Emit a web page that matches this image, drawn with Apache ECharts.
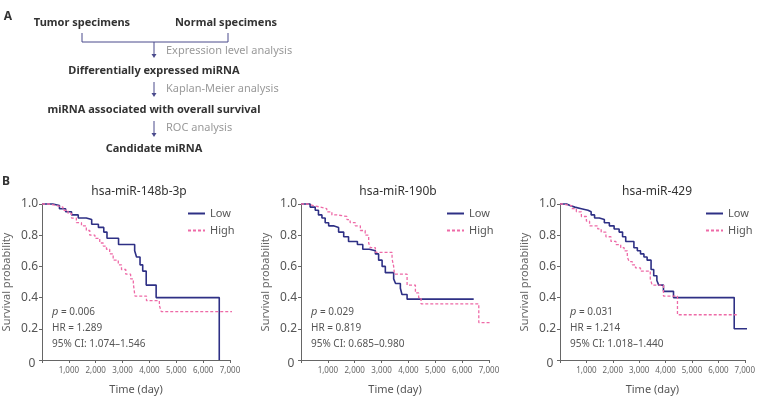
<!DOCTYPE html>
<html>
<head>
<meta charset="utf-8">
<script src="https://cdn.jsdelivr.net/npm/echarts@6/dist/echarts.min.js"></script>
<style>
  html, body { margin: 0; padding: 0; background: #fff; }
  #chart { width: 758px; height: 400px; }
</style>
</head>
<body>
<div id="chart"></div>
<script>
// panel titles and stats
const panelNames = ["hsa-miR-148b-3p", "hsa-miR-190b", "hsa-miR-429"];
const pValues = ["0.006", "0.029", "0.031"];
const hrValues = ["1.289", "0.819", "1.214"];
const ciValues = ["1.074\u20131.546", "0.685\u20130.980", "1.018\u20131.440"];

const xTicks = [0, 1000, 2000, 3000, 4000, 5000, 6000, 7000];
const yTicks = [0, 0.2, 0.4, 0.6, 0.8, 1.0];

// hsa-miR-148b-3p (time in days, survival probability)
const low148T = [0, 400, 650, 880, 1100, 1350, 1650, 1850, 2100, 2300, 2420, 2850, 3450, 3520, 3650, 3750, 3880, 4250, 6600];
const low148S = [1.0, 0.99, 0.97, 0.95, 0.93, 0.91, 0.90, 0.87, 0.85, 0.82, 0.78, 0.74, 0.70, 0.66, 0.61, 0.57, 0.48, 0.40, 0.0];
const high148T = [0, 250, 540, 780, 970, 1100, 1280, 1470, 1650, 1780, 1970, 2150, 2280, 2400, 2520, 2650, 2840, 2960, 3120, 3300, 3400, 3460, 3890, 4370, 4440, 7130];
const high148S = [1.0, 0.99, 0.98, 0.96, 0.94, 0.91, 0.88, 0.86, 0.83, 0.80, 0.78, 0.75, 0.73, 0.71, 0.68, 0.64, 0.61, 0.58, 0.55, 0.52, 0.49, 0.41, 0.38, 0.35, 0.31, 0.31];

// hsa-miR-190b
const low190T = [0, 340, 530, 650, 780, 900, 1030, 1210, 1400, 1590, 1770, 2100, 2300, 2550, 2770, 2890, 3020, 3140, 3450, 3520, 3700, 3760, 3950, 6430];
const low190S = [1.0, 0.98, 0.96, 0.93, 0.91, 0.88, 0.86, 0.85, 0.82, 0.79, 0.76, 0.74, 0.71, 0.70, 0.68, 0.64, 0.60, 0.56, 0.52, 0.49, 0.46, 0.42, 0.39, 0.39];
const high190T = [0, 230, 460, 720, 960, 1150, 1340, 1710, 1830, 2020, 2210, 2390, 2520, 2580, 2770, 3390, 3450, 3480, 3950, 4260, 4380, 4470, 6620, 7120];
const high190S = [1.0, 0.99, 0.98, 0.97, 0.95, 0.93, 0.92, 0.90, 0.88, 0.86, 0.83, 0.80, 0.75, 0.72, 0.69, 0.65, 0.60, 0.55, 0.48, 0.43, 0.40, 0.36, 0.24, 0.24];

// hsa-miR-429
const low429T = [0, 250, 380, 560, 810, 1060, 1180, 1310, 1490, 1680, 1870, 2050, 2240, 2370, 2490, 2800, 2930, 3050, 3180, 3300, 3450, 3550, 3670, 3740, 3920, 4300, 6600, 7100];
const low429S = [1.0, 0.99, 0.98, 0.97, 0.96, 0.95, 0.93, 0.91, 0.90, 0.88, 0.86, 0.84, 0.82, 0.79, 0.76, 0.72, 0.70, 0.68, 0.66, 0.64, 0.58, 0.54, 0.51, 0.48, 0.44, 0.40, 0.20, 0.20];
const high429T = [0, 130, 250, 440, 620, 810, 1000, 1120, 1430, 1560, 1740, 1930, 2120, 2300, 2430, 2550, 2620, 2740, 2860, 3050, 3420, 3490, 3920, 4450, 6720];
const high429S = [1.0, 0.995, 0.99, 0.97, 0.95, 0.92, 0.89, 0.86, 0.84, 0.82, 0.79, 0.76, 0.74, 0.72, 0.70, 0.66, 0.63, 0.61, 0.59, 0.57, 0.52, 0.48, 0.41, 0.29, 0.29];

const lowData = [[low148T, low148S], [low190T, low190S], [low429T, low429S]];
const highData = [[high148T, high148S], [high190T, high190S], [high429T, high429S]];

const NAVY = "#2e3085";
const PINK = "#ee6aa7";
const FONT = "Noto Sans";
const gridLefts = [42, 301, 560];
const gridW = 188;

const zip = (t, s) => t.map((v, i) => [v, s[i]]);

const chart = echarts.init(document.getElementById("chart"));

const grids = [], xAxes = [], yAxes = [], series = [], titles = [], legends = [], graphics = [];

gridLefts.forEach((left, k) => {
  grids.push({ left: left, top: 204, width: gridW, height: 156 });
  xAxes.push({
    gridIndex: k, type: "value", min: 0, max: 7000, interval: 1000,
    name: "Time (day)", nameLocation: "middle", nameGap: 24,
    nameTextStyle: { fontFamily: FONT, fontSize: 11, color: "#555" },
    axisLine: { lineStyle: { color: "#666", width: 1 } },
    axisTick: { show: true, length: 3, lineStyle: { color: "#666" } },
    axisLabel: { fontFamily: FONT, fontSize: 8, color: "#666", margin: 7,
      formatter: v => v === 0 ? "" : v.toLocaleString("en-US") },
    splitLine: { show: false }
  });
  yAxes.push({
    gridIndex: k, type: "value", min: 0, max: 1, interval: 0.2,
    name: "Survival probability", nameLocation: "middle", nameGap: 30,
    nameTextStyle: { fontFamily: FONT, fontSize: 11, color: "#666" },
    axisLine: { show: true, lineStyle: { color: "#666", width: 1 } },
    axisTick: { show: true, length: 3, lineStyle: { color: "#666" } },
    axisLabel: { fontFamily: FONT, fontSize: 12, color: "#555", margin: 4,
      formatter: v => v === 0 ? "" : v.toFixed(1) },
    splitLine: { show: false }
  });
  series.push({
    name: "Low", type: "line", xAxisIndex: k, yAxisIndex: k, step: "end",
    showSymbol: false, symbol: "none", clip: false,
    lineStyle: { color: NAVY, width: 1.6 }, itemStyle: { color: NAVY },
    data: zip(lowData[k][0], lowData[k][1])
  });
  series.push({
    name: "High", type: "line", xAxisIndex: k, yAxisIndex: k, step: "end",
    showSymbol: false, symbol: "none", clip: false,
    lineStyle: { color: PINK, width: 1.3, type: [3, 2] }, itemStyle: { color: PINK },
    data: zip(highData[k][0], highData[k][1])
  });
  titles.push({
    text: panelNames[k], left: left + gridW / 2 - 2, top: 181, textAlign: "center",
    textStyle: { fontFamily: FONT, fontSize: 12, fontWeight: "normal", color: "#333" }
  });
  legends.push({
    data: ["Low", "High"], orient: "vertical", left: left + 140, top: 203,
    itemWidth: 17, itemHeight: 8, itemGap: 6,
    itemStyle: { opacity: 0 },
    textStyle: { fontFamily: FONT, fontSize: 11, color: "#555" }
  });
  // origin label
  graphics.push({ type: "text", x: left - 10, y: 364,
    style: { text: "0", fill: "#555", fontFamily: FONT, fontSize: 12,
      align: "center", verticalAlign: "middle", textAlign: "center", textVerticalAlign: "middle" } });
  // stats
  const sx = left + 10;
  const stat = [
    { text: "{i|p} = " + pValues[k], y: 312 },
    { text: "HR = " + hrValues[k], y: 328 },
    { text: "95% CI: " + ciValues[k], y: 344 }
  ];
  stat.forEach(s => graphics.push({ type: "text", x: sx, y: s.y,
    style: { text: s.text, fill: "#555", fontFamily: FONT, fontSize: 10,
      rich: { i: { fontStyle: "italic", fontFamily: FONT, fontSize: 11, fill: "#555" } },
      align: "left", verticalAlign: "middle", textAlign: "left", textVerticalAlign: "middle" } }));
});

// flow chart, panel A
const LINE = "#4a4a8c";
const txt = (text, x, y, opts) => Object.assign({
  type: "text", x: x, y: y,
  style: Object.assign({ text: text, fill: "#333", fontFamily: FONT, fontSize: 11, fontWeight: "bold",
    align: "center", verticalAlign: "middle", textAlign: "center", textVerticalAlign: "middle" }, opts || {})
});
const grey = { fill: "#9a9a9a", fontWeight: "normal", align: "left", textAlign: "left" };
const arrow = (y0, y1) => [
  { type: "line", shape: { x1: 154, y1: y0, x2: 154, y2: y1 - 3 }, style: { stroke: LINE, lineWidth: 1 } },
  { type: "polygon", shape: { points: [[151.5, y1 - 4], [156.5, y1 - 4], [154, y1]] }, style: { fill: LINE } }
];

graphics.push(
  txt("A", 8, 17, { fontSize: 12 }),
  txt("Tumor specimens", 82, 23),
  txt("Normal specimens", 226, 23),
  { type: "polyline", shape: { points: [[82, 33], [82, 42], [228, 42], [228, 33]] }, style: { stroke: LINE, lineWidth: 1, fill: null } },
  ...arrow(42, 58),
  txt("Expression level analysis", 166, 51, grey),
  txt("Differentially expressed miRNA", 154, 71),
  ...arrow(82, 97),
  txt("Kaplan-Meier analysis", 166, 89, grey),
  txt("miRNA associated with overall survival", 154, 110),
  ...arrow(121, 137),
  txt("ROC analysis", 166, 128, grey),
  txt("Candidate miRNA", 154, 149),
  txt("B", 6, 182, { fontSize: 12 })
);

chart.setOption({
  animation: false,
  title: titles,
  legend: legends,
  grid: grids,
  xAxis: xAxes,
  yAxis: yAxes,
  series: series,
  graphic: graphics
});
</script>
</body>
</html>
